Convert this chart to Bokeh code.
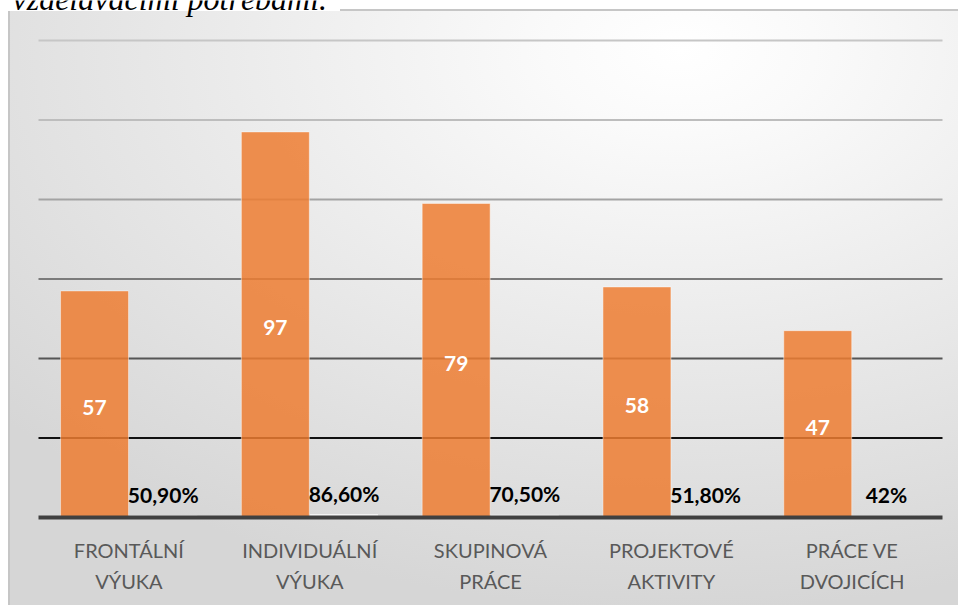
from bokeh.plotting import figure
from bokeh.models import Range1d, Label, ColumnDataSource, FixedTicker
from bokeh.transform import dodge
from bokeh.embed import file_html
from bokeh.resources import INLINE
from bokeh.core.properties import value

# ---- data ----
categories = ["FRONTÁLNÍ\nVÝUKA", "INDIVIDUÁLNÍ\nVÝUKA", "SKUPINOVÁ\nPRÁCE",
              "PROJEKTOVÉ\nAKTIVITY", "PRÁCE VE\nDVOJICÍCH"]
counts = [57, 97, 79, 58, 47]
count_labels = ["57", "97", "79", "58", "47"]
shares = [0.509, 0.866, 0.705, 0.518, 0.42]
share_labels = ["50,90%", "86,60%", "70,50%", "51,80%", "42%"]
grid_values = [20, 40, 60, 80, 100, 120]
title_text = "vzdělávacími potřebami."

# ---- styles ----
grid_colors = ["#111111", "#555555", "#7b7b7b", "#a3a3a3", "#bdbdbd", "#c6c6c6"]
FONT = "Lato"

n = len(categories)
positions = [i + 0.5 for i in range(n)]   # category centres on the x scale

src = ColumnDataSource(dict(
    x=positions,
    counts=counts,
    count_mid=[c / 2 for c in counts],
    count_labels=count_labels,
    shares=shares,
    share_labels=share_labels,
))
grid_src = ColumnDataSource(dict(
    y=grid_values,
    x0=[0] * len(grid_values),
    x1=[n] * len(grid_values),
    color=grid_colors,
))

# frame spans the whole canvas except the category-label strip below
PX_PER_CAT = 904 / n
PX_PER_UNIT = 477 / 120
p = figure(
    width=958, height=605,
    x_range=Range1d(-38 / PX_PER_CAT, n + 16 / PX_PER_CAT),
    y_range=Range1d(0, 517 / PX_PER_UNIT),
    output_backend="svg", toolbar_location=None,
    min_border_left=0, min_border_right=0,
    min_border_top=0, min_border_bottom=88,
)
p.background_fill_color = None
p.border_fill_color = None
p.outline_line_color = None
p.styles = {
    "background":
        "linear-gradient(#ffffff,#ffffff) 0px 0px / 8px 100% no-repeat, "
        "linear-gradient(#ffffff,#ffffff) 0px 0px / 100% 9px no-repeat, "
        "linear-gradient(#ffffff,#ffffff) 0px 0px / 340px 11px no-repeat, "
        "linear-gradient(#c6c6c6,#c6c6c6) 340px 9px / 100% 2px no-repeat, "
        "linear-gradient(#c6c6c6,#c6c6c6) 8px 11px / 2px 100% no-repeat, "
        "radial-gradient(900px 560px at 680px 50px, #ffffff 0%, #fafafa 15%, #ebebeb 50%, #d6d6d6 100%)"
}

p.xgrid.visible = False
p.ygrid.visible = False
p.yaxis.visible = False

# horizontal gridlines (drawn under the bars)
p.segment(x0="x0", x1="x1", y0="y", y1="y", line_color="color",
          line_width=2, source=grid_src)

p.vbar(x=dodge("x", -0.19), top="counts", width=0.376,
       fill_color="#ED7D31", fill_alpha=0.85,
       line_color="white", line_alpha=0.45, line_width=1, source=src)
p.vbar(x=dodge("x", 0.19), top="shares", width=0.376,
       fill_color="#f4f4f4", line_color=None, source=src)

p.text(x=dodge("x", -0.19), y="count_mid", text="count_labels",
       y_offset=3,
       text_color="white", text_font=value(FONT), text_font_style="bold",
       text_font_size="21px", text_align="center", text_baseline="middle",
       source=src)
p.text(x=dodge("x", 0.19), y="shares", text="share_labels",
       y_offset=-21,
       text_color="black", text_font=value(FONT), text_font_style="bold",
       text_font_size="21px", text_align="center", text_baseline="middle",
       source=src)

ax = p.xaxis[0]
ax.ticker = FixedTicker(ticks=positions)
ax.major_label_overrides = {pos: lab for pos, lab in zip(positions, categories)}
ax.bounds = (0, n)
ax.axis_line_color = "#404040"
ax.axis_line_width = 4
ax.major_tick_line_color = None
ax.minor_tick_line_color = None
ax.major_label_text_font = FONT
ax.major_label_text_font_size = "20px"
ax.major_label_text_color = "#595959"
ax.major_label_text_line_height = 1.3
ax.major_label_standoff = 14

# cut-off caption line above the chart (as in the source document)
p.add_layout(Label(x=-26 / PX_PER_CAT, y=519 / PX_PER_UNIT, text=title_text,
                   text_font="Liberation Serif", text_font_style="italic",
                   text_font_size="32px", text_color="black",
                   text_baseline="alphabetic"))

open("out.html", "w").write(file_html(p, INLINE))
